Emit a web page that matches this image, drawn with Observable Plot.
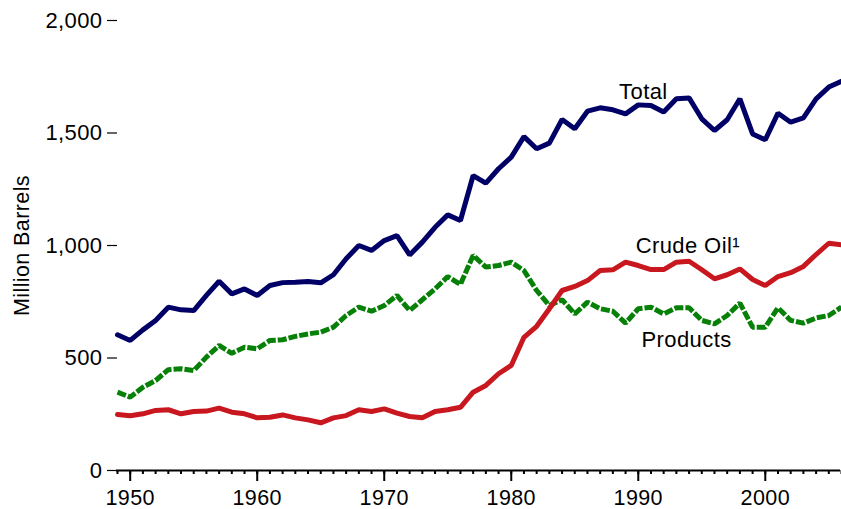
<!DOCTYPE html>
<html>
<head>
<meta charset="utf-8">
<script src="https://cdn.jsdelivr.net/npm/d3@7"></script>
<script src="https://cdn.jsdelivr.net/npm/@observablehq/plot@0.6"></script>
<style>
  html, body { margin: 0; padding: 0; background: #fff; }
  #chart svg { display: block; }
  #chart svg text { letter-spacing: 0.4px; }
</style>
</head>
<body>
<div id="chart"></div>
<script>
const years = d3.range(1949, 2007);

const total = [603, 578, 625, 667, 726, 714, 711, 778, 841, 785,
  807, 778, 822, 835, 837, 840, 834, 870, 941, 1000,
  978, 1022, 1044, 958, 1015, 1081, 1136, 1111, 1311, 1277,
  1341, 1393, 1484, 1430, 1455, 1560, 1519, 1597, 1612, 1603,
  1585, 1625, 1622, 1593, 1652, 1656, 1563, 1511, 1559, 1652,
  1496, 1470, 1588, 1548, 1567, 1652, 1704, 1730];

const crude = [249, 243, 252, 267, 270, 252, 262, 264, 277, 259,
  252, 234, 237, 247, 234, 225, 212, 234, 244, 270,
  262, 274, 255, 240, 234, 262, 270, 281, 348, 378,
  430, 467, 592, 641, 719, 800, 818, 844, 889, 892,
  926, 911, 893, 893, 926, 930, 892, 852, 870, 896,
  849, 822, 862, 879, 907, 960, 1010, 1003];

const products = [348, 326, 370, 400, 448, 452, 444, 504, 556, 521,
  548, 541, 578, 581, 596, 607, 615, 637, 689, 726,
  708, 733, 778, 711, 759, 807, 862, 827, 956, 904,
  911, 926, 889, 800, 733, 759, 696, 748, 719, 708,
  655, 719, 726, 696, 723, 723, 667, 652, 689, 744,
  637, 637, 723, 667, 655, 678, 689, 726];

const seriesNames = ["Total", "Crude Oil¹", "Products"];
const seriesColors = ["#000066", "#c8171e", "#068006"];

const labelNames = ["Total", "Crude Oil¹", "Products"];
const labelYears = [1990.4, 1993.9, 1993.8];
const labelValues = [1684, 996, 578];

const yTicks = [0, 500, 1000, 1500, 2000];
const majorYears = [1950, 1960, 1970, 1980, 1990, 2000];

const totalData = years.map((yr, i) => ({year: yr, value: total[i]}));
const crudeData = years.map((yr, i) => ({year: yr, value: crude[i]}));
const productsData = years.map((yr, i) => ({year: yr, value: products[i]}));
const labelData = labelNames.map((n, i) => ({name: n, year: labelYears[i], value: labelValues[i]}));

const chart = Plot.plot({
  width: 841,
  height: 509,
  marginLeft: 117,
  marginRight: 0,
  marginTop: 20,
  marginBottom: 39,
  style: {fontFamily: "'Liberation Sans', Arial, sans-serif", background: "#fff", color: "#000", fontSize: "20px"},
  x: {domain: [1949, 2006]},
  y: {domain: [0, 2000]},
  marks: [
    Plot.axisY({ticks: yTicks, tickFormat: d3.format(","), tickSize: 10, tickPadding: 5, fontSize: 22, label: null, strokeWidth: 1.2}),
    Plot.text(["Million Barrels"], {frameAnchor: "left", textAnchor: "middle", rotate: -90, dx: -95, fontSize: 21.5}),
    Plot.ruleY([0], {x1: 1949, x2: 2006, stroke: "#000", strokeWidth: 2, dx: -1}),
    Plot.axisX({ticks: years, tickSize: 4, tickFormat: () => "", strokeWidth: 2, label: null}),
    Plot.axisX({ticks: majorYears, tickSize: 11, tickPadding: 8, tickFormat: d => String(d), fontSize: 21.5, strokeWidth: 2, label: null}),
    Plot.line(productsData, {x: "year", y: "value", stroke: seriesColors[2], strokeWidth: 5, strokeDasharray: "9,2", strokeLinecap: "butt", strokeLinejoin: "miter"}),
    Plot.line(crudeData, {x: "year", y: "value", stroke: seriesColors[1], strokeWidth: 5, strokeLinejoin: "miter"}),
    Plot.line(totalData, {x: "year", y: "value", stroke: seriesColors[0], strokeWidth: 5, strokeLinejoin: "miter"}),
    Plot.text(labelData, {x: "year", y: "value", text: "name", fontSize: 22, fill: "#000"})
  ]
});
document.getElementById("chart").appendChild(chart);
</script>
</body>
</html>
